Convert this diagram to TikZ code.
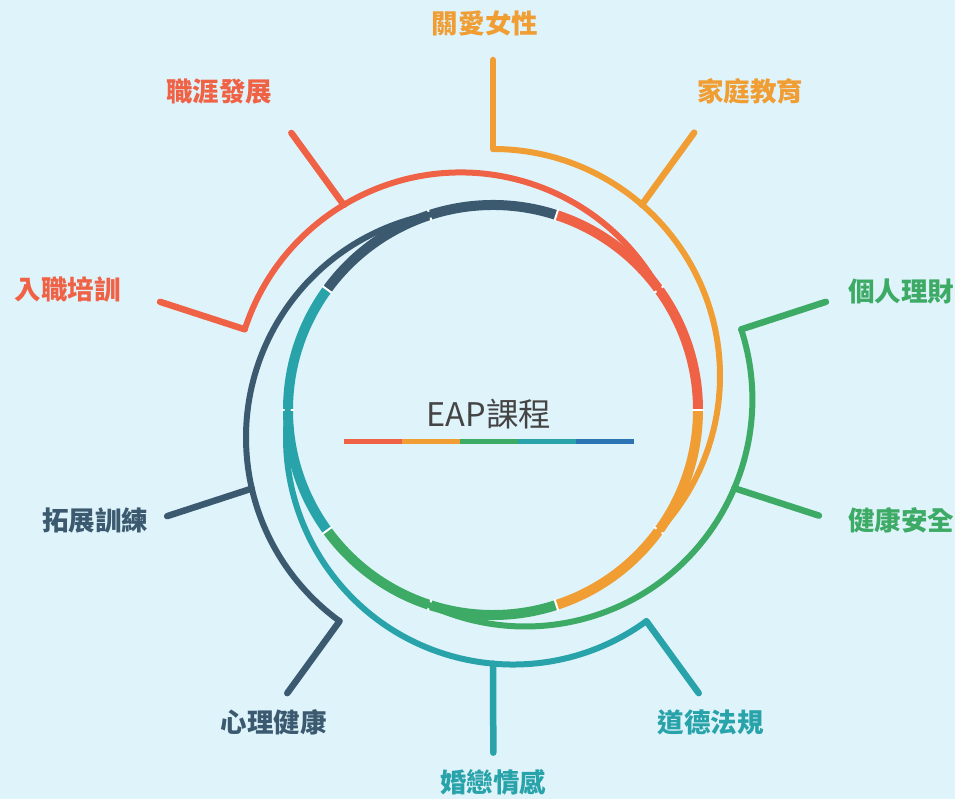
\documentclass[tikz,border=0pt]{standalone}
\usepackage{fontspec}
\setmainfont{Noto Sans CJK TC}
\usetikzlibrary{calc}
\definecolor{cred}{HTML}{F06245}
\definecolor{corange}{HTML}{F09E33}
\definecolor{cgreen}{HTML}{3DAB65}
\definecolor{cteal}{HTML}{29A3AA}
\definecolor{cdark}{HTML}{3B5A70}
\definecolor{cblue}{HTML}{2C74B3}
\definecolor{bgc}{HTML}{DFF3FB}
\definecolor{ctext}{HTML}{444444}
\begin{document}
\begin{tikzpicture}[x=1pt,y=1pt,
  ringseg/.style={line width=10pt},
  spiral/.style={line width=6pt, line cap=butt},
  leader/.style={line width=6.5pt, line cap=round},
  lab/.style={font=\fontsize{26.5}{26.5}\selectfont\bfseries, inner sep=0pt, anchor=base},
  tickmark/.style={white, line width=2pt},
  bar/.style={line width=5pt}]
\fill[bgc] (-493,-389) rectangle (462,410);
\useasboundingbox (-493,-389) rectangle (462,410);
\coordinate (C) at (0,0);
% inner ring
\foreach \a/\c in {0/cred,72/cdark,144/cteal,216/cgreen,288/corange}{
  \draw[ringseg,\c] (\a:205pt) arc[start angle=\a, delta angle=72, radius=205pt];
}
\foreach \a in {0,36,...,324}{
  \draw[tickmark] (\a:199pt) -- (\a:211pt);
}
% spirals with leaders
\foreach \u/\c/\n in {90/corange/o, 162/cred/r, 234/cdark/d, 306/cteal/t, 18/cgreen/g}{
  \coordinate (O\n) at (\u:34pt);
  \coordinate (S\n) at (\u:261pt);
  \coordinate (B\n) at ($(O\n)+(\u-41:227pt)$);
  \coordinate (E\n) at (\u:350pt);
  \coordinate (F\n) at ($(B\n)!89pt!180:(C)$);
  \draw[spiral,\c] (S\n) arc[start angle=\u, delta angle=-133.7, radius=227pt];
  \draw[leader,\c] (S\n) -- (E\n);
  \draw[leader,\c] (B\n) -- (F\n);
}
% labels
\node[lab,text=corange] (l1) at (-8,376) {關愛女性};
\node[lab,text=corange] (l2) at (257,308) {家庭教育};
\node[lab,text=cred] (l3) at (-273.5,308) {職涯發展};
\node[lab,text=cred] (l4) at (-425,110.5) {入職培訓};
\node[lab,text=cgreen] (l5) at (408,108.5) {個人理財};
\node[lab,text=cgreen] (l6) at (408,-121) {健康安全};
\node[lab,text=cteal] (l7) at (217.5,-322.5) {道德法規};
\node[lab,text=cteal] (l8) at (0.5,-382.5) {婚戀情感};
\node[lab,text=cdark] (l9) at (-219,-322.5) {心理健康};
\node[lab,text=cdark] (l10) at (-397.5,-121) {拓展訓練};
% center
\node[font=\fontsize{32.5}{32.5}\selectfont, text=ctext, inner sep=0pt, anchor=base] (title) at (-4,-16.7) {EAP課程};
\coordinate (u0) at (-149,-31.3);
\coordinate (u1) at (-91,-31.3);
\coordinate (u2) at (-33,-31.3);
\coordinate (u3) at (25,-31.3);
\coordinate (u4) at (83,-31.3);
\coordinate (u5) at (141,-31.3);
\draw[bar,cred] (u0) -- (u1);
\draw[bar,corange] (u1) -- (u2);
\draw[bar,cgreen] (u2) -- (u3);
\draw[bar,cteal] (u3) -- (u4);
\draw[bar,cblue] (u4) -- (u5);
\end{tikzpicture}
\end{document}
